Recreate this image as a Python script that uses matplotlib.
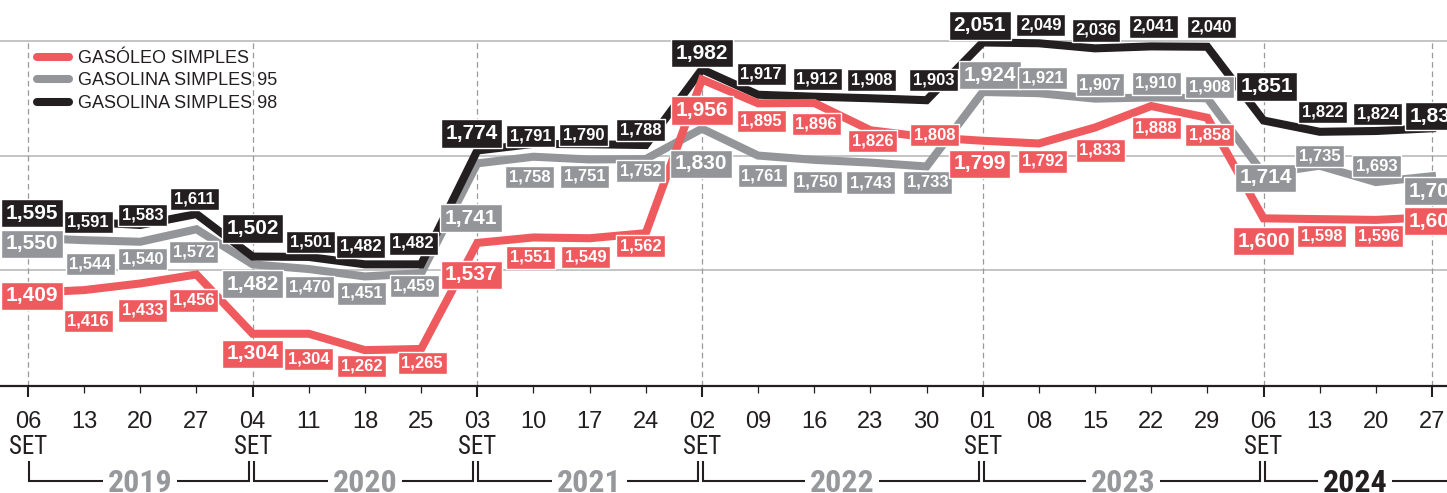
import matplotlib
matplotlib.use("Agg")
import matplotlib.pyplot as plt
from matplotlib.lines import Line2D
from matplotlib.transforms import blended_transform_factory

# week labels (day of month), first week of each September marked "SET"
days = ["06", "13", "20", "27", "04", "11", "18", "25", "03", "10", "17", "24",
        "02", "09", "16", "23", "30", "01", "08", "15", "22", "29", "06", "13", "20", "27"]
years = ["2019", "2020", "2021", "2022", "2023", "2024"]
year_starts = [0, 4, 8, 12, 17, 22]

gasoleo = [1.409, 1.416, 1.433, 1.456, 1.304, 1.304, 1.262, 1.265, 1.537, 1.551, 1.549, 1.562,
           1.956, 1.895, 1.896, 1.826, 1.808, 1.799, 1.792, 1.833, 1.888, 1.858, 1.600, 1.598,
           1.596, 1.603]
gasolina95 = [1.550, 1.544, 1.540, 1.572, 1.482, 1.470, 1.451, 1.459, 1.741, 1.758, 1.751, 1.752,
              1.830, 1.761, 1.750, 1.743, 1.733, 1.924, 1.921, 1.907, 1.910, 1.908, 1.714, 1.735,
              1.693, 1.708]
gasolina98 = [1.595, 1.591, 1.583, 1.611, 1.502, 1.501, 1.482, 1.482, 1.774, 1.791, 1.790, 1.788,
              1.982, 1.917, 1.912, 1.908, 1.903, 2.051, 2.049, 2.036, 2.041, 2.040, 1.851, 1.822,
              1.824, 1.831]

RED, GREY, BLACK = "#ef5a5e", "#939598", "#231f20"
SANS = ["Liberation Sans", "DejaVu Sans"]
NARROW = ["Roboto Condensed", "Liberation Sans Narrow", "Liberation Sans", "DejaVu Sans"]

# label nudges in pixels (dx right, dy down) so boxes sit where the original put them
red_dx = [4, 4, 2, -3, 0, 0, -3, 1, -6, -3, -4, -5, 0, 3, 2, 2, 8, -3, 4, 5, 5, 2, 0, 2, 3, 3]
red_dy = [3, 31, 27, 26, 20, 25, 16, 14, 32, 20, 19, 13, 31, 18, 21, 11, -2, 23, 18, 23, 22, 17,
          23, 17, 16, 4]
grey_dx = [4, 6, 2, -3, 0, 1, -3, -7, -6, -4, -5, -5, -1, 4, 3, 0, 1, 7, 4, 5, 5, 2, 2, 0, 1, 3]
grey_dy = [6, 24, 17, 23, 20, 18, 17, 13, 55, 20, 17, 12, 35, 20, 22, 20, 16, -17, -15, -14, -14,
           -11, 4, -10, -16, 15]
black_dx = [4, 4, 2, -2, 0, 2, -4, -8, -6, -3, -6, -5, 0, 3, 3, 1, 7, -3, 2, 1, 2, 4, 3, 3, 2, 4]
black_dy = [-7, 0, -10, -15, -28, -15, -18, -21, -17, -8, -9, -15, -16, -21, -18, -18, -20, -17,
            -18, -18, -20, -20, -34, -20, -17, -12]

big = set(year_starts) | {len(days) - 1}

fig = plt.figure(figsize=(14.47, 4.93), dpi=100)
ax = fig.add_axes([0, 107 / 493, 1, 386 / 493])
ax.set_xlim(-0.4986, 25.267)
ax.set_ylim(1.17, 2.16)

# decorative grid
grid_levels = [2.055, 1.761, 1.467]
for g in grid_levels:
    ax.axhline(g, color="#b4b4b4", lw=1.1, zorder=0)
top_frac = (grid_levels[0] - 1.17) / (2.16 - 1.17)
for x in year_starts + [len(days) - 1]:
    ax.axvline(x, ymin=0, ymax=top_frac, color="#9a9a9a", lw=0.9, ls=(0, (4.5, 3)), zorder=0)

xs = list(range(len(days)))
series = [(gasolina95, GREY, grey_dx, grey_dy, 3, 6),
          (gasolina98, BLACK, black_dx, black_dy, 4, 8),
          (gasoleo, RED, red_dx, red_dy, 5, 7)]
for vals, col, dxs, dys, zl, zt in series:
    ax.plot(xs, vals, color=col, lw=5.8, solid_joinstyle="miter", zorder=zl)
for vals, col, dxs, dys, zl, zt in series:
    for i, v in enumerate(vals):
        ax.annotate(f"{v:.3f}".replace(".", ","), (i, v), xytext=(dxs[i], -dys[i]),
                    textcoords="offset pixels", ha="center", va="center",
                    fontsize=15 if i in big else 12, fontweight="bold",
                    family=SANS, color="white", zorder=zt,
                    bbox=dict(boxstyle="square,pad=0.22", fc=col, ec="white", lw=1))

# axis
for s in ["top", "left", "right"]:
    ax.spines[s].set_visible(False)
ax.spines["bottom"].set_linewidth(1.6)
ax.spines["bottom"].set_color(BLACK)
ax.set_yticks([])
ax.set_xticks(year_starts + [len(days) - 1])
ax.set_xticks([i for i in xs if i not in big], minor=True)
ax.tick_params(which="major", length=8, width=1.5, color=BLACK, labelbottom=False)
ax.tick_params(which="minor", length=5, width=0.9, color=BLACK, labelbottom=False)

tr = blended_transform_factory(ax.transData, ax.transAxes)
def frac(px):
    # pixel distance from the top of the figure -> axes fraction
    return 1 - px / 386

for i, d in enumerate(days):
    ax.text(i, frac(428.5), d, transform=tr, ha="center", va="baseline",
            fontsize=17, family=SANS, color=BLACK, clip_on=False)
for i in year_starts:
    ax.text(i, frac(453.5), "SET", transform=tr, ha="center", va="baseline",
            fontsize=18, family=NARROW, color=BLACK, clip_on=False)

# year brackets
ends = year_starts[1:] + [25.6]
px = 1 / 56.16
for k, (s, e) in enumerate(zip(year_starts, ends)):
    x0, x1 = s + 1 * px, e - 4 * px
    ax.plot([x0, x0, x1, x1], [frac(462), frac(481), frac(481), frac(462)], transform=tr,
            color=BLACK, lw=1.5, clip_on=False, solid_joinstyle="miter")
    mid = (s + min(e, 25.267)) / 2
    ax.text(mid, frac(491.5), years[k], transform=tr, ha="center", va="baseline",
            fontsize=23, fontweight="bold", family=NARROW,
            color=BLACK if k == len(years) - 1 else "#97989b", clip_on=False,
            bbox=dict(boxstyle="square,pad=0.15", fc="white", ec="none"))

handles = [Line2D([], [], color=c, lw=5.8, solid_capstyle="round") for c in (RED, GREY, BLACK)]
fig.legend(handles, ["GASÓLEO SIMPLES", "GASOLINA SIMPLES 95", "GASOLINA SIMPLES 98"],
           loc="upper left", bbox_to_anchor=(37 / 1447, 1 - 50 / 493), frameon=False,
           borderpad=0, borderaxespad=0, handlelength=1.78, handletextpad=0.5,
           labelspacing=0.3, prop={"family": SANS, "size": 13},
           labelcolor=BLACK)

fig.savefig("out.png", dpi=100)
